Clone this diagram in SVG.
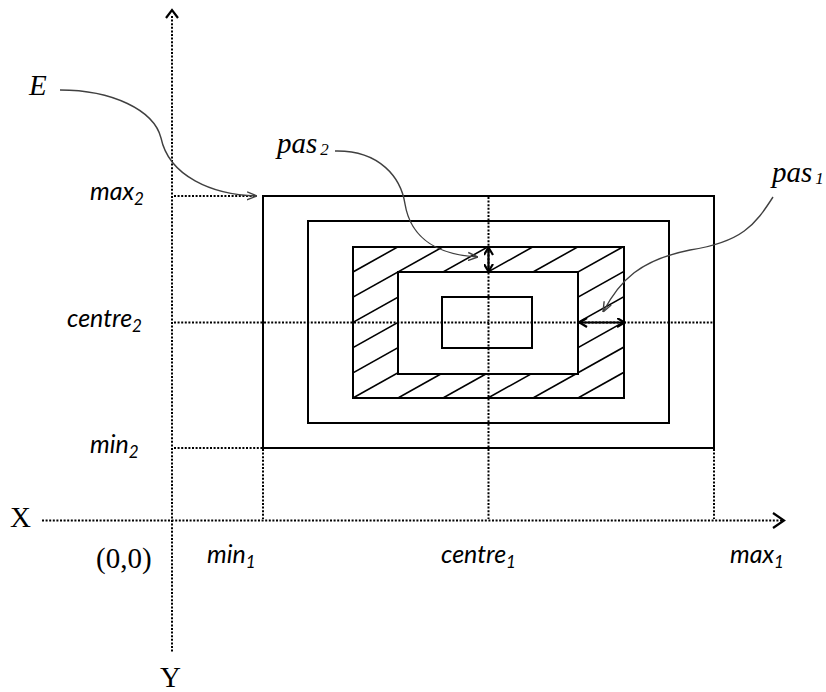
<svg xmlns="http://www.w3.org/2000/svg" width="826" height="692" viewBox="0 0 826 692">
  <style>
    .box { fill: none; stroke: #000; stroke-width: 2; }
    .dot { fill: none; stroke: #000; stroke-width: 2; stroke-dasharray: 2 1.6; }
    .curve { fill: none; stroke: #404040; stroke-width: 1.4; marker-end: url(#gray-head); }
    .dbl { fill: none; stroke: #000; stroke-width: 2.2; marker-start: url(#blk-head); marker-end: url(#blk-head); }
    .axhead { fill: none; stroke: #000; stroke-width: 2.2; }
    .hatch { stroke: #000; stroke-width: 1.6; }
    .ser { font-family: "Liberation Serif", "Times New Roman", serif; fill: #000; font-size: 29px; }
    .seri { font-family: "Liberation Serif", "Times New Roman", serif; font-style: italic; fill: #000; font-size: 29px; }
    .sans { font-family: Lato, "Open Sans", sans-serif; font-style: italic; fill: #000; font-size: 25px; }
    .sub { font-size: 17px; }
  </style>
  <defs>
    <marker id="gray-head" viewBox="0 0 10 10" refX="10" refY="5" markerWidth="10" markerHeight="10" markerUnits="userSpaceOnUse" orient="auto">
      <path d="M0,1 L10,5 L0,9" fill="none" stroke="#404040" stroke-width="1.4"/>
    </marker>
    <marker id="blk-head" viewBox="0 0 9 10" refX="8.5" refY="5" markerWidth="9" markerHeight="10" markerUnits="userSpaceOnUse" orient="auto-start-reverse">
      <path d="M0.5,0.5 L8,5 L0.5,9.5" fill="none" stroke="#000" stroke-width="2.2"/>
    </marker>
    <clipPath id="ring">
      <path clip-rule="evenodd" d="M353,247 H624 V398 H353 Z M398,272 H578 V374 H398 Z"/>
    </clipPath>
  </defs>

  <g id="hatching" clip-path="url(#ring)">
    <line class="hatch" x1="128" y1="398" x2="428" y2="230"/>
    <line class="hatch" x1="173" y1="398" x2="473" y2="230"/>
    <line class="hatch" x1="218" y1="398" x2="518" y2="230"/>
    <line class="hatch" x1="263" y1="398" x2="563" y2="230"/>
    <line class="hatch" x1="308" y1="398" x2="608" y2="230"/>
    <line class="hatch" x1="353" y1="398" x2="653" y2="230"/>
    <line class="hatch" x1="398" y1="398" x2="698" y2="230"/>
    <line class="hatch" x1="443" y1="398" x2="743" y2="230"/>
    <line class="hatch" x1="488" y1="398" x2="788" y2="230"/>
    <line class="hatch" x1="533" y1="398" x2="833" y2="230"/>
    <line class="hatch" x1="578" y1="398" x2="878" y2="230"/>
    <line class="hatch" x1="623" y1="398" x2="923" y2="230"/>
  </g>

  <g id="rect-E"><rect class="box" x="263" y="196" width="451" height="252"/></g>
  <g id="rect-2"><rect class="box" x="308" y="221" width="361" height="202"/></g>
  <g id="rect-hatched"><rect class="box" x="353" y="247" width="271" height="151"/></g>
  <g id="rect-4"><rect class="box" x="398" y="272" width="180" height="102"/></g>
  <g id="rect-5"><rect class="box" x="442" y="297" width="90" height="51"/></g>

  <g id="connectors">
    <line class="dot" x1="172" y1="16" x2="172" y2="652"/>
    <polyline class="axhead" points="166,18 172,10 178,18"/>
    <line class="dot" x1="42" y1="520.5" x2="782" y2="520.5"/>
    <polyline class="axhead" points="773,513 784,520.5 773,528"/>
    <line class="dot" x1="174" y1="196" x2="256" y2="196"/>
    <line class="dot" x1="174" y1="448" x2="262" y2="448"/>
    <line class="dot" x1="174" y1="322.5" x2="714" y2="322.5"/>
    <line class="dot" x1="263" y1="449" x2="263" y2="519"/>
    <line class="dot" x1="714" y1="449" x2="714" y2="519"/>
    <line class="dot" x1="488.5" y1="197" x2="488.5" y2="519"/>
    <line class="dbl" x1="488.5" y1="247" x2="488.5" y2="272"/>
    <line class="dbl" x1="579" y1="322.5" x2="625" y2="322.5"/>
    <path class="curve" d="M60,90 C112,90 154,110 161,138 C169,176 212,195 257,196"/>
    <path class="curve" d="M335,151 C380,150 401,178 405,204 C411,240 440,255 478,257"/>
    <path class="curve" d="M773,197 C755,225 742,242 690,250 C640,260 620,280 603,312"/>
  </g>

  <g id="labels">
    <text class="seri" x="29" y="95">E</text>
    <text class="seri" x="277" y="153">pas<tspan class="sub" font-size="18" dx="3" dy="2">2</tspan></text>
    <text class="seri" x="772" y="182">pas<tspan class="sub" font-size="18" dx="3" dy="2">1</tspan></text>
    <text class="sans" x="90" y="200">max<tspan class="sub" dy="5">2</tspan></text>
    <text class="sans" x="67" y="327">centre<tspan class="sub" dy="5">2</tspan></text>
    <text class="sans" x="90" y="453">min<tspan class="sub" dy="5">2</tspan></text>
    <text class="ser" x="10" y="527">X</text>
    <text class="ser" x="96" y="568">(0,0)</text>
    <text class="ser" x="160" y="687">Y</text>
    <text class="sans" x="207" y="563">min<tspan class="sub" dy="5">1</tspan></text>
    <text class="sans" x="441" y="563">centre<tspan class="sub" dy="5">1</tspan></text>
    <text class="sans" x="730" y="563">max<tspan class="sub" dy="5">1</tspan></text>
  </g>
</svg>
